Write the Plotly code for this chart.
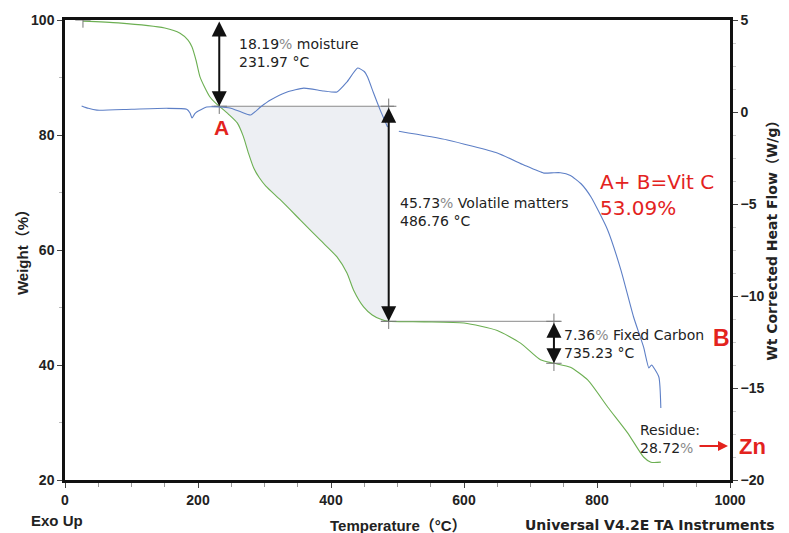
import numpy as np
import plotly.graph_objects as go

# ---------------- data ----------------
tga_temp = [27, 80, 150, 173, 185, 191, 197, 203, 210, 218, 225, 233, 246, 259, 268, 276, 284,
            292, 302, 324, 354, 384, 409, 424, 434, 449, 462, 474, 486, 540, 600, 650, 685,
            715, 735, 760, 786, 816, 846, 870, 881, 896]
tga_weight = [99.8, 99.5, 98.6, 97.7, 96.5, 95.3, 93.0, 90.1, 88.3, 86.6, 85.7, 84.9, 83.6, 82.1,
              79.8, 76.8, 74.2, 72.6, 71.1, 68.7, 65.2, 61.7, 58.8, 56.0, 53.0, 50.1, 48.7, 48.0,
              47.6, 47.5, 47.3, 46.0, 43.8, 40.9, 40.3, 39.6, 37.4, 32.7, 28.2, 24.0, 23.1, 23.1]

dsc_temp = [25, 35, 48, 100, 153, 183, 188, 191, 195, 198, 213, 233, 248, 265, 279, 294, 309,
            334, 359, 389, 409, 424, 440, 450, 455, 464, 474, 480, 485, None, 502, 575, 650,
            690, 720, 735, 745, 760, 776, 791, 816, 836, 855, 870, 878, 882, 893, 896]
dsc_flow = [0.33, 0.2, 0.1, 0.15, 0.2, 0.15, -0.05, -0.33, -0.1, 0.0, 0.27, 0.27, 0.22, 0.0,
            -0.16, 0.27, 0.65, 1.09, 1.3, 1.14, 1.09, 1.63, 2.39, 2.2, 1.9, 1.03, 0.1, -0.4,
            -0.82, None, -1.05, -1.52, -2.23, -2.88, -3.32, -3.3, -3.3, -3.45, -3.9, -4.62,
            -6.41, -8.59, -11.14, -12.77, -13.91, -13.75, -14.4, -16.09]

step_temps = [231.97, 486.76, 735.23]          # step temperatures from the labels
step_levels = [85.0, 47.6, 40.3]               # weight levels
x_ticks = [0, 200, 400, 600, 800, 1000]
y_ticks = [20, 40, 60, 80, 100]
y2_ticks = [-20, -15, -10, -5, 0, 5]

GREEN = "#6caf52"
BLUE = "#5d7fc6"
RED = "#e3231e"
TXT = "#222222"
FONT = "Liberation Sans, Arial, Noto Sans CJK SC, sans-serif"
WIDE = "DejaVu Sans, Liberation Sans, Noto Sans CJK SC, sans-serif"

fig = go.Figure()

# shaded area between plateau A and the TGA curve up to the volatile step
tt = np.array(tga_temp, float)
ww = np.array(tga_weight, float)
sel = (tt > step_temps[0]) & (tt < step_temps[1])
poly_x = [step_temps[0]] + list(tt[sel]) + [step_temps[1], step_temps[1], step_temps[0]]
poly_y = [step_levels[0]] + list(ww[sel]) + [step_levels[1], step_levels[0], step_levels[0]]
fig.add_trace(go.Scatter(x=poly_x, y=poly_y, fill="toself", fillcolor="rgba(230,232,238,0.7)",
                         line=dict(width=0), mode="lines", hoverinfo="skip", showlegend=False))

# horizontal reference lines
fig.add_trace(go.Scatter(x=[step_temps[0] - 8, step_temps[1] + 8], y=[step_levels[0]] * 2,
                         mode="lines", line=dict(color="#8a8a8a", width=1), showlegend=False))
fig.add_trace(go.Scatter(x=[step_temps[1] - 12, step_temps[2] + 10], y=[step_levels[1]] * 2,
                         mode="lines", line=dict(color="#8a8a8a", width=1), showlegend=False))

# curves
fig.add_trace(go.Scatter(x=tga_temp, y=tga_weight, mode="lines", line_shape="spline",
                         line=dict(color=GREEN, width=1.1, smoothing=0.6), showlegend=False))
fig.add_trace(go.Scatter(x=dsc_temp, y=dsc_flow, mode="lines", yaxis="y2", connectgaps=False,
                         line_shape="spline",
                         line=dict(color=BLUE, width=1.1, smoothing=0.5), showlegend=False))

# cross markers at step points
fig.add_trace(go.Scatter(
    x=[tga_temp[0], step_temps[0], step_temps[1], step_temps[1], step_temps[2], step_temps[2]],
    y=[100, step_levels[0], step_levels[0], step_levels[1], step_levels[1], step_levels[2]],
    mode="markers", marker=dict(symbol="cross-thin", size=11, line=dict(color="#777", width=1)),
    showlegend=False))

# double-headed arrows
arrow_pairs = [(step_temps[0], 100, step_levels[0]),
               (step_temps[1], step_levels[0], step_levels[1]),
               (step_temps[2], step_levels[1], step_levels[2])]
for x, y0, y1 in arrow_pairs:
    fig.add_annotation(x=x, y=y1, ax=x, ay=y0, xref="x", yref="y", axref="x", ayref="y",
                       showarrow=True, arrowhead=2, startarrowhead=2, arrowside="end+start",
                       arrowsize=1.5, startarrowsize=1.5, arrowwidth=2, arrowcolor="#111",
                       text="")

pct = '<span style="color:#8a8a8a">%</span>'
def txt(x, y, s, size=14, color=TXT, bold=False, xanchor="left", yanchor="top", xref="x",
        yref="y", angle=0, family=WIDE):
    fig.add_annotation(x=x, y=y, xref=xref, yref=yref, text=s, showarrow=False,
                       xanchor=xanchor, yanchor=yanchor, align="left", textangle=angle,
                       font=dict(family=family, size=size, color=color,
                                 weight="bold" if bold else "normal"))

txt(259, 97.6, f"18.19{pct} moisture<br>231.97 °C")
txt(500, 69.9, f"45.73{pct} Volatile matters<br>486.76 °C")
txt(748, 47.0, f"7.36{pct} Fixed Carbon<br>735.23 °C")
txt(861, 30.4, f"Residue:<br>28.72{pct}")
txt(235, 81.3, "A", size=21, color=RED, bold=True, xanchor="center", yanchor="middle",
    family=FONT)
txt(971, 44.7, "B", size=23, color=RED, bold=True, yanchor="middle", family=FONT)
txt(801, 74.3, "A+ B=Vit C<br>53.09%", size=20, color=RED)

# Zn arrow and label
fig.add_annotation(x=997, y=25.9, ax=-30, ay=0, xref="x", yref="y", text="", showarrow=True,
                   arrowhead=2, arrowsize=1, arrowwidth=2, arrowcolor=RED)
txt(1.011, 25.9, "Zn", size=22, color=RED, bold=True, yanchor="middle", xref="paper",
    family=FONT)

# axis titles and footer text
txt(-0.064, 0.503, "Weight（%）", size=15, bold=True, xanchor="center", yanchor="middle",
    xref="paper", yref="paper", angle=-90, family=FONT)
txt(1.062, 0.527, "Wt Corrected Heat Flow（W/g）", size=14, bold=True, xanchor="center",
    yanchor="middle", xref="paper", yref="paper", angle=-90)
txt(0.502, -0.098, "Temperature（°C）", size=15, bold=True, xanchor="center", yanchor="middle",
    xref="paper", yref="paper", family=FONT)
txt(0.879, -0.098, "Universal V4.2E TA Instruments", size=14, bold=True, xanchor="center",
    yanchor="middle", xref="paper", yref="paper")
txt(-0.012, -0.087, "Exo Up", size=15, bold=True, xanchor="center", yanchor="middle",
    xref="paper", yref="paper", family=FONT)

tickfont = dict(family=FONT, size=14, color=TXT, weight="bold")
# the page body has an 8 px margin, so the figure is sized to fit the 789x533 window
fig.update_layout(
    width=781, height=525,
    margin=dict(l=57, r=59, t=12, b=53, autoexpand=False),
    paper_bgcolor="white", plot_bgcolor="white",
    showlegend=False,
    xaxis=dict(range=[0, 1000], tickvals=x_ticks, showgrid=False, zeroline=False,
               showline=True, linecolor="#111", linewidth=2.5, mirror=True, automargin=False,
               ticks="outside", ticklen=5, tickwidth=1.2, tickcolor="#444",
               minor=dict(dtick=50, ticks="outside", ticklen=4, tickcolor="#999"),
               tickfont=tickfont),
    yaxis=dict(range=[20, 100], tickvals=y_ticks, showgrid=False, zeroline=False,
               showline=True, linecolor="#111", linewidth=2.5, automargin=False,
               ticks="outside", ticklen=5, tickwidth=1.2, tickcolor="#444",
               minor=dict(dtick=10, ticks="outside", ticklen=3, tickcolor="#bbb"),
               tickfont=tickfont),
    yaxis2=dict(range=[-20, 5], tickvals=y2_ticks, overlaying="y", side="right",
                showgrid=False, zeroline=False, showline=True, linecolor="#111", linewidth=2.5,
                automargin=False,
                ticks="outside", ticklen=5, tickwidth=1.2, tickcolor="#444",
                minor=dict(dtick=1.25, ticks="outside", ticklen=3, tickcolor="#ccc"),
                tickfont=tickfont),
)

fig.write_html("out.html")
